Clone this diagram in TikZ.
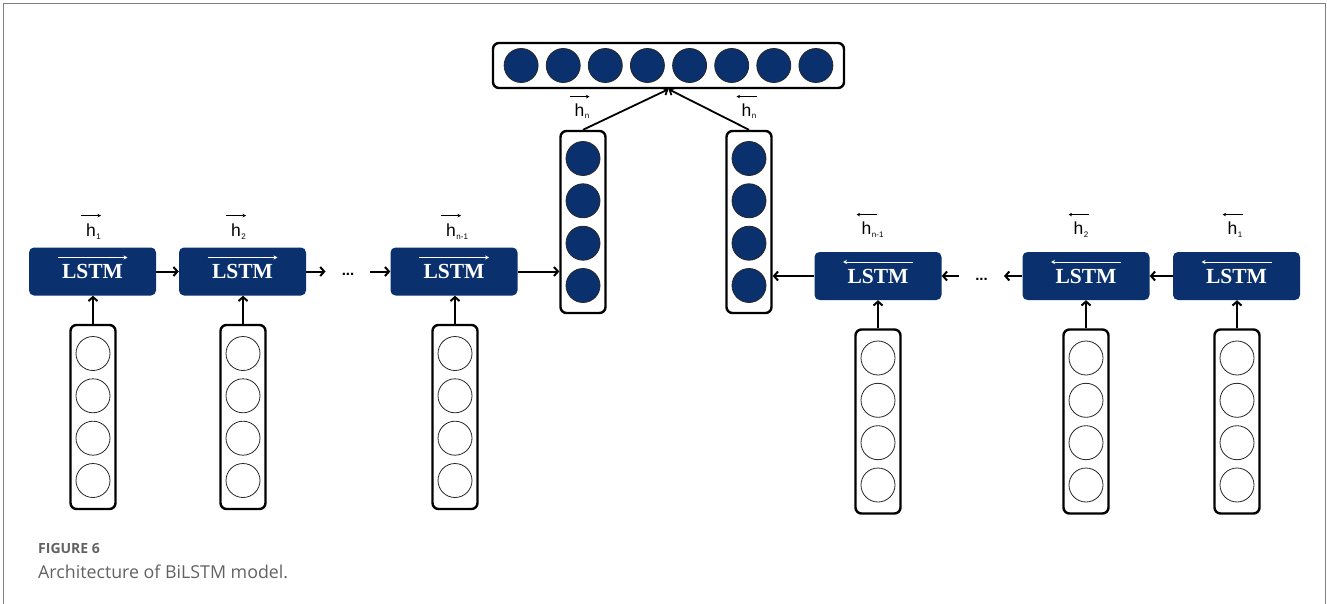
\documentclass[tikz,border=0pt]{standalone}
\usepackage{fontspec}
\setmainfont{Liberation Sans}
\newfontfamily\lstmfont{Liberation Serif}
\newfontfamily\capfont{Open Sans}
\usetikzlibrary{arrows.meta,calc}
\definecolor{navy}{HTML}{0A316E}
\definecolor{framegray}{HTML}{808080}
\definecolor{capgray}{HTML}{626262}
% hidden-state label: h with a small subscript that does not shift the centre
\newcommand{\hsub}[1]{h\rlap{\kern0.6pt\raisebox{-2.5pt}{\fontsize{8}{8}\selectfont #1}}}

\begin{document}
\begin{tikzpicture}[x=1pt,y=-1pt,
  lstmbox/.style={rectangle, rounded corners=5pt, fill=navy, minimum width=127pt,
    minimum height=48pt, inner sep=0pt, text=white,
    font=\lstmfont\bfseries\fontsize{21.5}{21.5}\selectfont},
  column/.style={rectangle, rounded corners=6pt, draw=black, line width=2.4pt,
    minimum width=45pt, minimum height=184pt, inner sep=0pt},
  cell/.style={circle, draw=black!85, line width=0.8pt, minimum size=34pt, inner sep=0pt},
  fcell/.style={cell, fill=navy},
  flow/.style={line width=2pt, -{Straight Barb[length=4pt,width=9pt]}},
  joint/.style={line width=1.8pt, -{Straight Barb[length=4pt,width=8pt]}},
  hlabel/.style={font=\fontsize{17.5}{17.5}\selectfont, inner sep=0pt, anchor=base},
  harrow/.style={line width=0.8pt, -{Stealth[length=3.5pt,width=3.5pt]}},
  larrow/.style={white, line width=1pt, -{Stealth[length=4pt,width=4pt]}},
  dots/.style={font=\bfseries\fontsize{15}{15}\selectfont, inner xsep=16pt, inner ysep=0pt},
  caption/.style={anchor=base west, inner sep=0pt, text=capgray},
]
\useasboundingbox (0,0) rectangle (1327,604);

% outer frame (open at the bottom)
\draw[framegray, line width=1.5pt] (3.5,604) -- (3.5,3.5) -- (1325.5,3.5) -- (1325.5,604);

% forward LSTM cells
\foreach \n/\x in {f1/92.5, f2/242.5, f3/454} {
  \node[lstmbox] (\n) at (\x,271.5) {LSTM};
  \draw[larrow] ($(\n.center)+(-35,-14)$) -- ($(\n.center)+(35,-14)$);
}
% backward LSTM cells
\foreach \n/\x in {b3/878, b2/1086, b1/1236.5} {
  \node[lstmbox] (\n) at (\x,276) {LSTM};
  \draw[larrow] ($(\n.center)+(35,-14)$) -- ($(\n.center)+(-35,-14)$);
}

% input embedding columns
\foreach \n/\x/\y in {i1/93/417, i2/243/417, i3/455/417, j3/878/421.5, j2/1086/421.5, j1/1237/421.5} {
  \node[column] (\n) at (\x,\y) {};
  \foreach \k/\dy in {1/-63.5, 2/-21.2, 3/21.2, 4/63.5}
    \node[cell] (\n-\k) at ($(\n.center)+(0,\dy)$) {};
}

% final hidden-state columns
\foreach \n/\x in {m1/583, m2/749} {
  \node[column, minimum height=182pt] (\n) at (\x,222) {};
  \foreach \k/\dy in {1/-63.5, 2/-21.2, 3/21.2, 4/63.5}
    \node[fcell] (\n-\k) at ($(\n.center)+(0,\dy)$) {};
}

% concatenated output vector
\node[column, minimum width=351pt, minimum height=45pt] (out) at (668.5,65.5) {};
\foreach \k/\dx in {1/-147.4, 2/-105.3, 3/-63.2, 4/-21.1, 5/21.1, 6/63.2, 7/105.3, 8/147.4}
  \node[fcell] (out-\k) at ($(out.center)+(\dx,0)$) {};

% input to LSTM connections
\foreach \c/\l in {i1/f1, i2/f2, i3/f3, j3/b3, j2/b2, j1/b1}
  \draw[flow] (\c.north) -- (\c.north |- \l.south);

% forward chain
\node[dots] (dl) at (348,274) {...};
\node[dots] (dr) at (981.5,279) {...};
\draw[flow] (f1.east) -- (f2.west);
\draw[flow] (f2.east) -- (f2.east -| dl.west);
\draw[flow] (dl.east |- f3.west) -- (f3.west);
\draw[flow] (f3.east) -- (m1.west |- f3.east);
% backward chain
\draw[flow] (b1.west) -- (b2.east);
\draw[flow] (b2.west) -- (b2.west -| dr.east);
\draw[flow] (dr.west |- b3.east) -- (b3.east);
\draw[flow] (b3.west) -- (m2.east |- b3.west);

% concatenation
\draw[joint] (m1.north) -- (out.south);
\draw[joint] (m2.north) -- (out.south);

% hidden-state labels, forward
\foreach \n/\x/\s in {hf1/91/1, hf2/236/2, hfn/451/n-1} {
  \node[hlabel] (\n) at (\x,236.5) {\hsub{\s}};
  \draw[harrow] ($(\n.north)+(-10,-8)$) -- ($(\n.north)+(10,-8)$);
}
% hidden-state labels, backward
\foreach \n/\x/\s in {hbn/866.5/n-1, hb2/1078.5/2, hb1/1232.5/1} {
  \node[hlabel] (\n) at (\x,234.5) {\hsub{\s}};
  \draw[harrow] ($(\n.north)+(10,-7)$) -- ($(\n.north)+(-10,-7)$);
}
% labels of the last states
\node[hlabel] (hnf) at (579.5,116.5) {\hsub{n}};
\draw[harrow] ($(hnf.north)+(-10,-7)$) -- ($(hnf.north)+(10,-7)$);
\node[hlabel] (hnb) at (746.5,116.5) {\hsub{n}};
\draw[harrow] ($(hnb.north)+(10,-7)$) -- ($(hnb.north)+(-10,-7)$);

% caption
\node[caption, font=\capfont\bfseries\fontsize{14}{14}\selectfont] (fig) at (38,553) {FIGURE 6};
\node[caption, font=\capfont\fontsize{17.8}{17.8}\selectfont] (cap) at (38,578) {Architecture of BiLSTM model.};
\end{tikzpicture}
\end{document}
